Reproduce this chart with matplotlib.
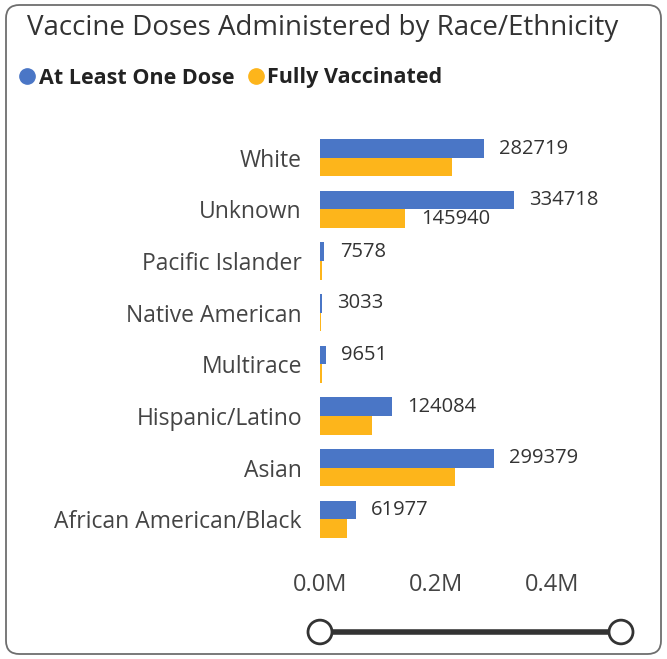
import matplotlib
matplotlib.use("Agg")
import matplotlib.pyplot as plt
from matplotlib.patches import FancyBboxPatch, Circle
from matplotlib.lines import Line2D
import numpy as np

plt.rcParams['font.family'] = ['Open Sans', 'DejaVu Sans']

categories = ["White", "Unknown", "Pacific Islander", "Native American", "Multirace",
              "Hispanic/Latino", "Asian", "African American/Black"]
at_least_one = [282719, 334718, 7578, 3033, 9651, 124084, 299379, 61977]
fully_vacc = [228000, 145940, 3000, 1200, 4200, 90000, 232000, 46000]
labels_one = ["282719", "334718", "7578", "3033", "9651", "124084", "299379", "61977"]
labels_full = ["", "145940", "", "", "", "", "", ""]
xticks = [0, 200000, 400000]
xticklabels = ["0.0M", "0.2M", "0.4M"]

blue = "#4A76C6"
orange = "#FDB51B"

W, H = 667, 659
fig = plt.figure(figsize=(W / 100, H / 100), dpi=100)

# panel border
fig.patches.append(FancyBboxPatch((6 / W, 5 / H), (W - 12) / W, (H - 10) / H,
                                  boxstyle="round,pad=0,rounding_size=0.02",
                                  transform=fig.transFigure, facecolor="white",
                                  edgecolor="#6e6e6e", linewidth=1.3, zorder=-5))

ax = fig.add_axes([320 / W, 1 - 545 / H, 290 / W, (545 - 132) / H])
ax.set_zorder(2)
ax.set_facecolor("none")
n = len(categories)
y = np.arange(n)
bh = 0.36
ax.barh(y - bh / 2, at_least_one, height=bh, color=blue)
ax.barh(y + bh / 2, fully_vacc, height=bh, color=orange)
ax.set_ylim(n - 0.5, -0.5)
ax.set_xlim(0, 500000)
ax.set_yticks(y)
ax.set_yticklabels(categories, fontsize=16.5, color="#444444")
ax.set_xticks(xticks)
ax.set_xticklabels(xticklabels, fontsize=17, color="#444444")
ax.tick_params(axis="y", length=0, pad=13)
ax.tick_params(axis="x", length=0, pad=20)
for s in ax.spines.values():
    s.set_visible(False)

for i in range(n):
    ax.annotate(labels_one[i], (at_least_one[i], y[i] - bh / 2), xytext=(11, 0),
                textcoords="offset points", va="center", ha="left",
                fontsize=14.5, color="#333333")
    if labels_full[i]:
        ax.annotate(labels_full[i], (fully_vacc[i], y[i] + bh / 2), xytext=(12, 0),
                    textcoords="offset points", va="center", ha="left",
                    fontsize=14.5, color="#333333")

# title
fig.text(27 / W, 1 - 28 / H, "Vaccine Doses Administered by Race/Ethnicity",
         fontsize=20, color="#333333", ha="left", va="center")

# legend
handles = [Line2D([], [], marker="o", linestyle="none", markersize=11, color=blue),
           Line2D([], [], marker="o", linestyle="none", markersize=11, color=orange)]
leg = fig.legend(handles, ["At Least One Dose", "Fully Vaccinated"],
                 loc="center left", bbox_to_anchor=(16 / W, 1 - 78 / H),
                 ncol=2, frameon=False, handletextpad=0.05, columnspacing=0.5,
                 handlelength=1.0, borderaxespad=0, borderpad=0,
                 prop={"weight": "bold", "size": 15.5})
for t in leg.get_texts():
    t.set_color("#222222")

# slider decoration
fig.add_artist(Line2D([320 / W, 621 / W], [1 - 632 / H, 1 - 632 / H],
                      transform=fig.transFigure, color="#333333", linewidth=4, zorder=3))
for cx in (320, 621):
    fig.add_artist(Circle((cx / W, 1 - 632 / H), 12 / W, transform=fig.transFigure,
                          facecolor="white", edgecolor="#333333", linewidth=2, zorder=4))

fig.savefig("out.png", dpi=100)
